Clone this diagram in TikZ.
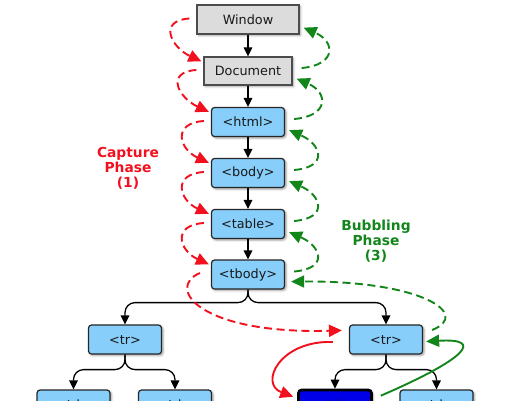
\documentclass[tikz,border=0pt]{standalone}
\usepackage{fontspec}
\setmainfont{DejaVu Sans}
\usetikzlibrary{arrows.meta,shadows.blur,calc}

\definecolor{boxblue}{HTML}{87CEFA}
\definecolor{boxgray}{HTML}{DCDCDC}
\definecolor{capred}{HTML}{F2101E}
\definecolor{bubgreen}{HTML}{12861A}
\definecolor{targetblue}{HTML}{0000E8}

\begin{document}
\begin{tikzpicture}[x=1pt,y=-1pt,
  boxbase/.style={draw=black!85, line width=1.2pt, minimum height=29pt, inner sep=0pt,
    font=\fontsize{12.8}{14}\selectfont, text=black!90,
    blur shadow={shadow xshift=1.5pt, shadow yshift=-1.5pt, shadow blur steps=4, shadow opacity=40}},
  elem/.style={boxbase, rounded corners=3pt, fill=boxblue, minimum width=73pt},
  winbox/.style={boxbase, fill=boxgray, draw=black!70},
  tgt/.style={elem, fill=targetblue, line width=2.6pt, draw=black},
  treeedge/.style={line width=1.3pt, -{Triangle[length=9pt,width=8.5pt]}, rounded corners=10pt},
  bigtip/.style={-{Triangle[length=13pt,width=12pt]}},
  capture/.style={capred, line width=1.9pt, bigtip},
  bubble/.style={bubgreen, line width=1.9pt, bigtip},
  dsh/.style={dash pattern=on 8pt off 4.5pt},
  phaselbl/.style={font=\fontsize{13.8}{15}\selectfont\bfseries, align=center}
]
\useasboundingbox (0,0) rectangle (516,400);
\clip (0,0) rectangle (516,400);

% nodes
\node[winbox, minimum width=102pt] (win) at (248,19.5) {Window};
\node[winbox, minimum width=88pt, minimum height=28pt] (doc) at (248,71) {Document};
\node[elem] (html) at (248,122) {<html>};
\node[elem] (body) at (248,173) {<body>};
\node[elem] (table) at (248,224) {<table>};
\node[elem] (tbody) at (248,274.5) {<tbody>};
\node[elem] (trl) at (125,339.5) {<tr>};
\node[elem] (trr) at (386,339.5) {<tr>};
\node[elem] (td1) at (73.5,404.5) {<td>};
\node[elem] (td2) at (175,404.5) {<td>};
\node[tgt] (td3) at (335,404.5) {<td>};
\node[elem] (td4) at (436.5,404.5) {<td>};

% tree edges
\draw[treeedge] (win.south) -- (doc.north);
\draw[treeedge] (doc.south) -- (html.north);
\draw[treeedge] (html.south) -- (body.north);
\draw[treeedge] (body.south) -- (table.north);
\draw[treeedge] (table.south) -- (tbody.north);
\draw[treeedge] (tbody.south) -- ++(0,13) -| (trl.north);
\draw[treeedge] (tbody.south) -- ++(0,13) -| (trr.north);
\draw[treeedge] (trl.south) -- ++(0,15) -| (td1.north);
\draw[treeedge] (trl.south) -- ++(0,15) -| (td2.north);
\draw[treeedge] (trr.south) -- ++(0,15) -| (td3.north);
\draw[treeedge] (trr.south) -- ++(0,15) -| (td4.north);

% capture phase
\foreach \a/\b in {win/doc,doc/html,html/body,body/table,table/tbody}
  \draw[capture,dsh] ($(\a.west)+(-7,-1)$) .. controls +(-32,2) and +(-30,-14) .. ($(\b.north west)+(-2,5)$);
\draw[capture,dsh] ($(tbody.west)+(-11,-1.5)$) .. controls +(-35,15) and +(-142,4) .. ($(trr.north west)+(-7,6)$);
\draw[capture] ($(trr.west)+(-16,2.5)$) .. controls +(-53,-2) and +(-34.5,-13) .. ($(td3.north west)+(-4,8)$);

% bubbling phase
\foreach \a/\b in {doc/win,html/doc,body/html,table/body,tbody/table}
  \draw[bubble,dsh] ($(\a.east)+(9,-3)$) .. controls +(35,-3) and +(32,14) .. ($(\b.south east)+(4,-7)$);
\draw[bubble,dsh] ($(trr.east)+(9,-9.5)$) .. controls +(40,-16) and +(130,-1) .. ($(tbody.south east)+(6,-8)$);
\draw[bubble] ($(td3.north east)+(8,7)$) .. controls +(85.5,-37) and +(59,-3.5) .. ($(trr.east)+(3,2)$);

% labels
\node[phaselbl, text=capred] (cap) at (128,168) {Capture\\Phase\\(1)};
\node[phaselbl, text=bubgreen] (bub) at (376,241) {Bubbling\\Phase\\(3)};
\end{tikzpicture}
\end{document}
